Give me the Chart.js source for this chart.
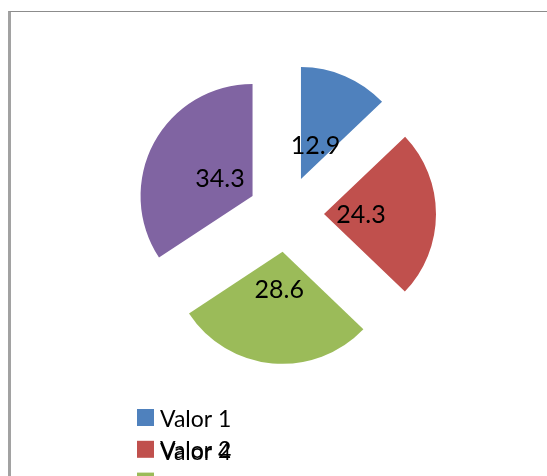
<!DOCTYPE html>
<html>
<head>
<meta charset="utf-8">
<script src="https://cdn.jsdelivr.net/npm/chart.js@4/dist/chart.umd.min.js"></script>
<style>
  html, body { margin: 0; padding: 0; background: #fff; }
  #wrap { position: relative; width: 547px; height: 476px; overflow: hidden; }
  #frame { position: absolute; left: 8px; top: 11px; width: 600px; height: 600px;
           border-left: 3px solid #a2a2a2; border-top: 1px solid #8c8c8c; pointer-events: none; }
  canvas { position: absolute; left: 0; top: 0; }
</style>
</head>
<body>
<div id="wrap">
  <canvas id="c" width="547" height="476"></canvas>
  <div id="frame"></div>
</div>
<script>
// ---- data ----
const categories = ['Valor 1', 'Valor 2', 'Valor 3', 'Valor 4'];
const values = [12.9, 24.3, 28.6, 34.3];
const valueLabels = ['12.9', '24.3', '28.6', '34.3'];
const sliceColors = ['#4F81BD', '#C0504D', '#9BBB59', '#8064A2'];

// ---- style constants ----
const EXPLODE = 38;       // px each slice is pulled out along its mid angle
const LABEL_DIST = 75;    // px from pie centre to value label
const LABEL_FONT = '25px Lato';
const LEGEND_FONT = '23px Lato';

// Exploded slices: translate every arc along its mid angle before drawing
const baseArcDraw = Chart.ArcElement.prototype.draw;
Chart.ArcElement.prototype.draw = function (ctx) {
  const mid = (this.startAngle + this.endAngle) / 2;
  ctx.save();
  ctx.translate(Math.cos(mid) * EXPLODE, Math.sin(mid) * EXPLODE);
  baseArcDraw.call(this, ctx);
  ctx.restore();
};

const valueLabelPlugin = {
  id: 'valueLabels',
  afterDatasetsDraw(chart) {
    const ctx = chart.ctx;
    const arcs = chart.getDatasetMeta(0).data;
    ctx.save();
    ctx.font = LABEL_FONT;
    ctx.fillStyle = '#000';
    ctx.textAlign = 'center';
    ctx.textBaseline = 'alphabetic';
    arcs.forEach((arc, i) => {
      const mid = (arc.startAngle + arc.endAngle) / 2;
      const x = arc.x + Math.cos(mid) * LABEL_DIST;
      const y = arc.y + Math.sin(mid) * LABEL_DIST;
      ctx.fillText(valueLabels[i], x, y + 9);
    });
    ctx.restore();
  }
};

// Legend as laid out in the reference (entries stacked, last one overlapping row 2,
// legend clipped at the bottom of the chart object)
const legendRows = [0, 1, 2, 1];
const legendPlugin = {
  id: 'stackedLegend',
  afterDraw(chart) {
    const ctx = chart.ctx;
    const x0 = 137, y0 = 409, rowH = 31.8, box = 17;
    ctx.save();
    ctx.font = LEGEND_FONT;
    ctx.textBaseline = 'alphabetic';
    categories.forEach((cat, i) => {
      const row = legendRows[i];
      const shift = i === 3 ? 1.5 : 0;
      const y = y0 + row * rowH + shift;
      if (i !== 3) {
        ctx.fillStyle = sliceColors[i];
        ctx.fillRect(x0, y, box, box);
      }
      ctx.save();
      ctx.beginPath();
      ctx.rect(0, 0, chart.width, 474);
      ctx.clip();
      if (row < 2) {
        ctx.fillStyle = '#000';
        ctx.fillText(cat, x0 + 23, y + 17.5);
      } else {
        ctx.fillStyle = '#000';
        ctx.fillText(cat, x0 + 23, y + 21);
      }
      ctx.restore();
    });
    ctx.restore();
  }
};

new Chart(document.getElementById('c'), {
  type: 'pie',
  data: {
    labels: categories,
    datasets: [{
      data: values,
      backgroundColor: sliceColors,
      borderWidth: 0
    }]
  },
  options: {
    responsive: false,
    animation: false,
    layout: { padding: { top: 102, bottom: 150, left: 125, right: 100 } },
    plugins: {
      legend: { display: false },
      tooltip: { enabled: false }
    }
  },
  plugins: [valueLabelPlugin, legendPlugin]
});
</script>
</body>
</html>
